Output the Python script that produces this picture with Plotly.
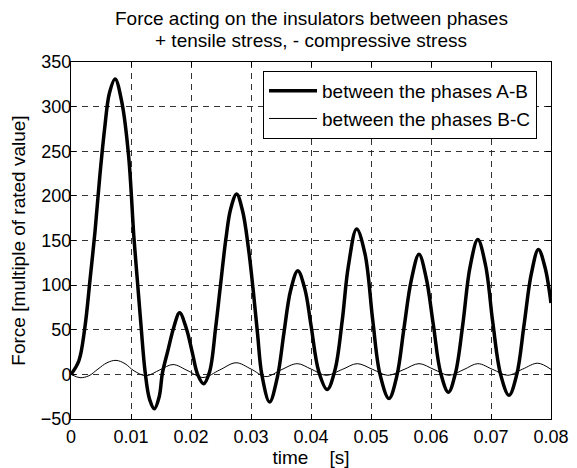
import plotly.graph_objects as go

# Time axis samples [s] and force between phases A-B [multiple of rated value]
t_ab = [0, 0.0013, 0.0023, 0.0032, 0.0040, 0.0048, 0.0056, 0.0064, 0.00735,
        0.0085, 0.0096, 0.0105, 0.0111, 0.0117, 0.01235, 0.0131, 0.0139,
        0.0147, 0.01525, 0.0162, 0.0171, 0.0181, 0.0192, 0.0202, 0.0211, 0.0221,
        0.0231, 0.0241, 0.0249, 0.0258, 0.0266, 0.0276, 0.0286, 0.0296, 0.0304,
        0.0311, 0.0318, 0.0331, 0.0344, 0.0355, 0.0366, 0.0378, 0.0390, 0.0400,
        0.0413, 0.0427, 0.0440, 0.0452, 0.0462, 0.0476, 0.0490, 0.0503, 0.0515,
        0.0530, 0.0543, 0.0555, 0.0567, 0.0580, 0.0592, 0.0604, 0.0616, 0.0629,
        0.0641, 0.0653, 0.0665, 0.0678, 0.0691, 0.0703, 0.0716, 0.0730, 0.0743,
        0.0755, 0.0767, 0.0779, 0.0790, 0.0800]
f_ab = [0, 15, 52, 108, 160, 222, 275, 315, 331,
        304, 245, 152, 102, 52, 3, -28, -38.5,
        -25, 2, 28, 52, 69, 52, 25, 0, -10.5,
        3, 52, 99, 151, 185, 202, 183, 140, 92,
        45, 0, -31, -3, 47, 94, 116, 95, 55,
        3, -17, 5, 60, 120, 163, 135, 60, 0,
        -27, -2, 52, 105, 134.5, 108, 55, 2, -20,
        2, 56, 120, 151, 122, 58, 0, -23.5, 0,
        55, 112, 140, 120, 80]

# Force between phases B-C
t_bc = [0, 0.0015, 0.0030, 0.0045, 0.0060, 0.0075, 0.0090, 0.0105, 0.0125,
        0.0148, 0.0170, 0.0195, 0.0220, 0.0248, 0.0275, 0.0300, 0.0325, 0.0350,
        0.0377, 0.0400, 0.0425, 0.0452, 0.0477, 0.0503, 0.0528, 0.0555, 0.0580,
        0.0605, 0.0630, 0.0655, 0.0678, 0.0703, 0.0728, 0.0753, 0.0778, 0.0800]
f_bc = [0, -3.7, -1.5, 6, 13, 15.7, 12, 4, -1.5,
        5, 11, 4, -3.5, 5, 13, 6, -2.5, 5,
        12, 6, -1, 5.5, 12, 5.5, -1, 5.5, 12,
        5.5, -1, 5.5, 12, 5.5, -1, 6, 12.5, 5.6]

x_ticks = [0, 0.01, 0.02, 0.03, 0.04, 0.05, 0.06, 0.07, 0.08]
x_labels = ["0", "0.01", "0.02", "0.03", "0.04", "0.05", "0.06", "0.07", "0.08"]
y_ticks = [-50, 0, 50, 100, 150, 200, 250, 300, 350]

title_lines = ["Force acting on the insulators between phases",
               "+ tensile stress, - compressive stress"]

FONT = "Liberation Sans, Arial, sans-serif"
TXT = 19

fig = go.Figure()
fig.add_trace(go.Scatter(
    x=t_ab, y=f_ab, mode="lines", name="between the phases A-B",
    line=dict(color="black", width=3.5, shape="spline", smoothing=1.0),
))
fig.add_trace(go.Scatter(
    x=t_bc, y=f_bc, mode="lines", name="between the phases B-C",
    line=dict(color="black", width=1, shape="spline", smoothing=1.0),
))

axis_common = dict(
    showline=True, linecolor="black", linewidth=1, mirror="ticks",
    ticks="inside", ticklen=5, tickcolor="black", tickwidth=1,
    showgrid=True, gridcolor="#333333", gridwidth=1, griddash="6px,5px",
    zeroline=False, automargin=False,
    tickfont=dict(family=FONT, size=18, color="black"),
)

# two-line title above the axes
for i, line in enumerate(title_lines):
    fig.add_annotation(
        text=line, xref="paper", yref="paper", x=0.5, y=1.123 - 0.0616 * i,
        xanchor="center", yanchor="middle", showarrow=False,
        font=dict(family=FONT, size=TXT, color="black"),
    )

fig.update_layout(
    width=577, height=468,
    margin=dict(l=71, r=26, t=62, b=49, autoexpand=False),
    paper_bgcolor="white", plot_bgcolor="white",
    font=dict(family=FONT, color="black"),
    xaxis=dict(
        range=[0, 0.08], tickvals=x_ticks, ticktext=x_labels,
        ticklabelstandoff=1,
        title=dict(text="time\u00a0\u00a0\u00a0\u00a0[s]", standoff=6,
                   font=dict(family=FONT, size=TXT, color="black")),
        **axis_common,
    ),
    yaxis=dict(
        range=[-50, 350], tickvals=y_ticks,
        ticklabelstandoff=-5,
        title=dict(text="Force [multiple of rated value]", standoff=10,
                   font=dict(family=FONT, size=TXT, color="black")),
        **axis_common,
    ),
    legend=dict(
        x=0.4, y=0.975, xanchor="left", yanchor="top",
        bgcolor="white", bordercolor="black", borderwidth=1,
        font=dict(family=FONT, size=TXT, color="black"),
        tracegroupgap=0, itemwidth=48,
    ),
    showlegend=True,
)

fig.write_html("out.html")
